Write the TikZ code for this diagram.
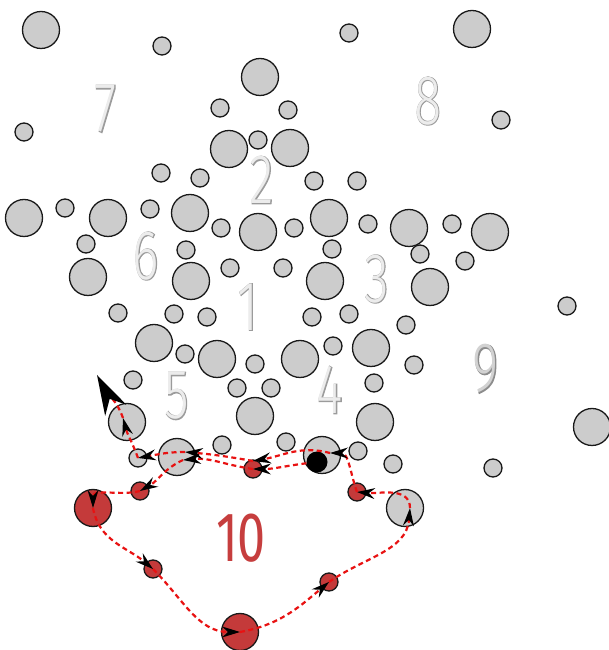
\documentclass[tikz,border=0pt]{standalone}
\usepackage{fontspec}
\usepackage{xcolor}
\usepackage{graphicx}
\usepackage{tikz}
\usetikzlibrary{arrows.meta,calc}

\newfontfamily\digitfont{Fira Sans Light}
\newfontfamily\digitedge{Fira Sans Light}[FakeBold=2]
\newfontfamily\tenfont{Fira Sans}
\definecolor{ballgray}{RGB}{204,204,204}
\definecolor{clusterred}{RGB}{196,58,58}
\definecolor{routered}{RGB}{232,18,18}
\definecolor{numfill}{RGB}{236,236,236}
\definecolor{numedge}{RGB}{155,155,155}
\definecolor{ninefill}{RGB}{210,210,210}
\definecolor{nineedge}{RGB}{140,140,140}
\definecolor{tenfill}{RGB}{198,62,62}
\newcommand\ghostnum[3]{\scalebox{0.72}[1]{\makebox[0pt]{\digitedge\color{#2}#1}\makebox[0pt]{\digitfont\color{#3}#1}}}

\begin{document}
\begin{tikzpicture}[
  x=1pt, y=1pt,
  >=Stealth,
  ballbig/.style={circle, draw=black!90, line width=1.3pt, fill=ballgray, minimum size=37pt, inner sep=0pt},
  ballsmall/.style={ballbig, minimum size=18pt},
  redbig/.style={ballbig, fill=clusterred},
  redsmall/.style={ballsmall, fill=clusterred},
  num/.style={inner sep=0pt, font=\fontsize{70}{72}\selectfont},
  route/.style={draw=routered, line width=2.2pt, dash pattern=on 5pt off 3.5pt, -{Stealth[color=black, length=18pt, width=11pt, inset=6pt, line width=0pt]}},
]
\useasboundingbox (0,0) rectangle (609,650);

\node[num] (n7) at (106,541) {\ghostnum{7}{numedge}{numfill}};
\node[num] (n8) at (428,549) {\ghostnum{8}{numedge}{numfill}};
\node[num] (n2) at (262,470) {\ghostnum{2}{numedge}{numfill}};
\node[num] (n6) at (146,394) {\ghostnum{6}{numedge}{numfill}};
\node[num] (n1) at (248,343) {\ghostnum{1}{numedge}{numfill}};
\node[num] (n3) at (377,371) {\ghostnum{3}{numedge}{numfill}};
\node[num] (n5) at (177,254) {\ghostnum{5}{numedge}{numfill}};
\node[num] (n4) at (330,260) {\ghostnum{4}{numedge}{numfill}};
\node[num] (n9) at (486,281) {\ghostnum{9}{nineedge}{ninefill}};
\node[num, text=tenfill] (n10) at (241,112) {\scalebox{0.72}[1]{\tenfont 10}};

\foreach \cx/\cy [count=\i] in {41/620, 472/621, 260/573, 229/501, 290/502, 24/432, 108/432, 190/437,
  258/418, 329/432, 409/422, 490/418, 88/373, 191/369, 325/369, 430/363, 154/307, 217/291,
  300/291, 371/302, 255/234, 375/228, 592/223}
  \node[ballbig] (big\i) at (\cx,\cy) {};

\foreach \cx/\cy [count=\i] in {162/604, 349/617, 220/542, 288/540, 24/518, 501/530, 258/510,
  161/477, 200/472, 314/469, 357/469, 65/442, 150/441, 221/422, 294/422, 368/426, 452/426,
  86/406, 186/400, 332/401, 420/396, 465/389, 230/382, 283/382, 118/337, 174/336, 207/333,
  312/333, 349/336, 406/325, 567/344, 185/296, 255/286, 333/304, 414/285, 133/270, 237/262,
  271/262, 374/267, 222/205, 286/208, 358/199, 393/186, 493/182}
  \node[ballsmall] (small\i) at (\cx,\cy) {};

\node[ballbig] (bendA) at (177,193) {};
\node[ballbig] (bendB) at (322,195) {};
\node[ballbig] (turnR) at (405,142) {};
\node[ballbig] (exitB) at (127,228) {};
\node[ballsmall] (exitS) at (138,192) {};
\node[redsmall] (hop1) at (253,181) {};
\node[redsmall] (hop2) at (140,159) {};
\node[redbig] (hop3) at (93,142) {};
\node[redsmall] (hop4) at (153,81) {};
\node[redbig] (hop5) at (240,18) {};
\node[redsmall] (hop6) at (329,68) {};
\node[redsmall] (hop7) at (357,158) {};
\node[circle, fill=black, minimum size=21pt, inner sep=0pt] (start) at (317,188) {};

\coordinate (hop1up) at ([yshift=8pt]hop1.center);
\coordinate (bendAup) at ([shift={(8,5)}]bendA.center);
\coordinate (bendAlow) at ([shift={(6,-3)}]bendA.center);
\coordinate (bendBtip) at ([shift={(8,2)}]bendB.center);
\coordinate (turnRtip) at ([xshift=5pt]turnR.center);
\coordinate (exitBtip) at ([shift={(-4,4)}]exitB.center);
\coordinate (finish) at (97,275);

\draw[route] (start) to[out=187, in=0] (hop1.center);
\draw[route] (hop1.center) to[out=172, in=5] (bendAlow);
\draw[route] (bendAlow) to[out=205, in=30] (hop2.center);
\draw[route] (hop2.center) to[out=195, in=90] (hop3.center);
\draw[route] (hop3.center) to[out=280, in=140] (hop4.center);
\draw[route] (hop4.center) to[out=315, in=180] (hop5.center);
\draw[route] (hop5.center) to[out=10, in=220] (hop6.center);
\draw[route] (hop6.center) to[out=35, in=265] (turnRtip);
\draw[route] (turnRtip) to[out=90, in=355] (hop7.center);
\draw[route] (hop7.center) to[out=110, in=0] (bendBtip);
\draw[route] (bendBtip) to[out=165, in=10] (hop1up);
\draw[route] (hop1up) to[out=170, in=355] (bendAup);
\draw[route] (bendAup) to[out=180, in=10] (exitS.center);
\draw[route] (exitS.center) to[out=110, in=285] (exitBtip);
\draw[route, -{Stealth[color=black, length=40pt, width=24pt, inset=13pt, line width=0pt]}] (exitBtip) to[out=110, in=298] (finish);
\end{tikzpicture}
\end{document}
